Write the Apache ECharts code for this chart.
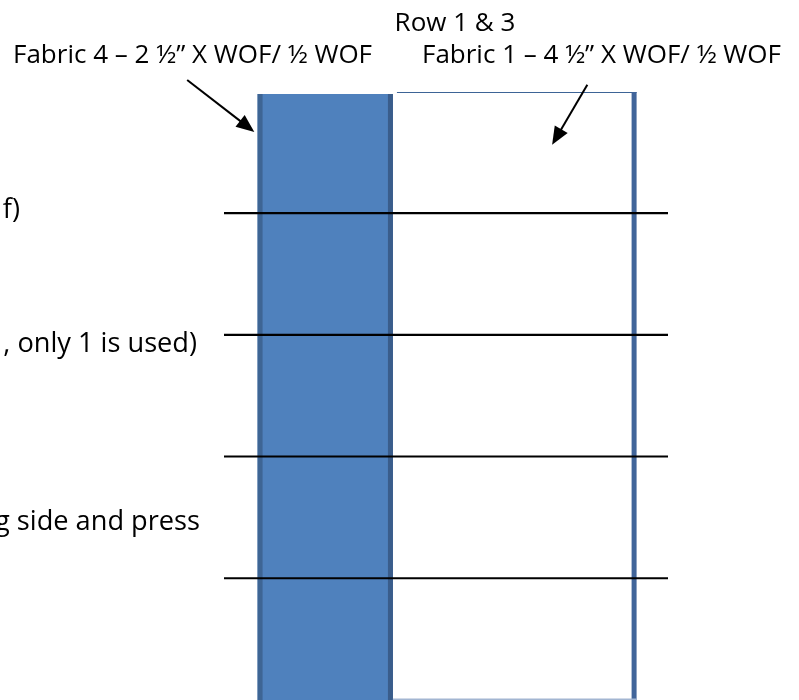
<!DOCTYPE html>
<html><head><meta charset="utf-8">
<script src="https://cdn.jsdelivr.net/npm/echarts@6/dist/echarts.min.js"></script>
<style>html,body{margin:0;padding:0;background:#fff}#c{width:799px;height:700px}</style>
</head><body><div id="c"></div>
<script>
// strip widths in inches (Fabric 4 then Fabric 1)
const stripNames = ['Fabric 4', 'Fabric 1'];
const stripWidths = [2.5, 4.5];
// cut lines, inches from the top of the strips
const cutLines = [2.2, 4.45, 6.7, 8.95];
const titleText = 'Row 1 & 3';
const stripLabels = ['Fabric 4 \u2013 2 \u00bd\u201d X WOF/ \u00bd WOF', 'Fabric 1 \u2013 4 \u00bd\u201d X WOF/ \u00bd WOF'];
const sideNotes = ['f)', ', only 1 is used)', 'g side and press'];

const FAMILY = "'Open Sans', 'Noto Sans', sans-serif";
// fit font sizes to the text widths seen in the reference
const ctx = document.createElement('canvas').getContext('2d');
ctx.font = '100px ' + FAMILY;
const FS = Math.round(100 * 359 / ctx.measureText(stripLabels[0]).width * 10) / 10;
const FN = Math.round(100 * 194 / ctx.measureText(sideNotes[1]).width * 10) / 10;
const FONT = FS + 'px ' + FAMILY;
const NOTE_FONT = FN + 'px ' + FAMILY;

const chart = echarts.init(document.getElementById('c'), null, {renderer: 'canvas'});

function arrow(api, s, t, w) {
  const S = api.coord(s), T = api.coord(t);
  const dx = T[0]-S[0], dy = T[1]-S[1], L = Math.hypot(dx, dy);
  const ux = dx/L, uy = dy/L, nx = -uy, ny = ux;
  const hl = 18, hw = 7.5;
  const B = [T[0]-ux*hl, T[1]-uy*hl];
  return [
    {type:'line', shape:{x1:S[0], y1:S[1], x2:B[0]+ux*2, y2:B[1]+uy*2}, style:{stroke:'#000', lineWidth:w}},
    {type:'polygon', shape:{points:[T, [B[0]+nx*hw, B[1]+ny*hw], [B[0]-nx*hw, B[1]-ny*hw]]}, style:{fill:'#000'}}
  ];
}

function renderItem(params, api) {
  const total = stripWidths.reduce((a,b)=>a+b, 0);
  const x0 = api.coord([0, 0]);
  const x1 = api.coord([stripWidths[0], 0]);
  const x2 = api.coord([total, 0]);
  const bottom = params.coordSys.y + params.coordSys.height;
  const top = x0[1];
  const kids = [];
  // Fabric 4 strip (blue)
  kids.push({type:'rect', shape:{x:x0[0], y:top, width:x1[0]-x0[0], height:bottom-top}, style:{fill:'#4F81BD'}});
  kids.push({type:'rect', shape:{x:x0[0], y:top, width:5, height:bottom-top}, style:{fill:'#3E6594'}});
  kids.push({type:'rect', shape:{x:x1[0]-5, y:top, width:5, height:bottom-top}, style:{fill:'#3A5D8B'}});
  // Fabric 1 strip (white with outline)
  kids.push({type:'line', shape:{x1:x1[0]+4, y1:top-1.5, x2:x2[0], y2:top-1.5}, style:{stroke:'#3D6496', lineWidth:1.2}});
  kids.push({type:'rect', shape:{x:x2[0]-5, y:top-2, width:5, height:bottom-top+2}, style:{fill:'#41659A'}});
  kids.push({type:'line', shape:{x1:x1[0], y1:bottom-0.8, x2:x2[0], y2:bottom-0.8}, style:{stroke:'#A3B6D2', lineWidth:1.5}});
  // cut lines across the full width
  const xl = params.coordSys.x, xr = params.coordSys.x + params.coordSys.width;
  cutLines.forEach(v => {
    const p = api.coord([0, v]);
    kids.push({type:'line', shape:{x1:xl, y1:p[1], x2:xr, y2:p[1]}, style:{stroke:'#000', lineWidth:2.2}});
  });
  // pointer arrows
  kids.push(...arrow(api, [-1.30, -0.26], [-0.06, 0.70], 2));
  kids.push(...arrow(api, [6.09, -0.17], [5.44, 0.94], 2));
  // side notes (text cut at the page edge)
  const noteY = [api.coord([0, cutLines[0]])[1] - 3, api.coord([0, cutLines[1]])[1] + 9,
                 (api.coord([0, cutLines[2]])[1] + api.coord([0, cutLines[3]])[1]) / 2 + 5];
  const noteRight = [20, 197, 200];
  sideNotes.forEach((t, i) => {
    kids.push({type:'text', style:{text:t, x:noteRight[i], y:noteY[i], align:'right', verticalAlign:'middle', font:NOTE_FONT, fill:'#000'}});
  });
  return {type:'group', children:kids};
}

chart.setOption({
  animation: false,
  backgroundColor: '#fff',
  grid: {left: 224, right: 131, top: 94, bottom: 0},
  xAxis: {type:'value', min:-0.62, max:7.58, show:false},
  yAxis: {type:'value', min:0, max:11.2, inverse:true, show:false},
  graphic: [
    {type:'text', x: 455, y: 24, style:{text:titleText, font:FONT, fill:'#000', align:'center', verticalAlign:'middle'}},
    {type:'text', x: 13, y: 56, style:{text:stripLabels[0], font:FONT, fill:'#000', verticalAlign:'middle'}},
    {type:'text', x: 781, y: 56, style:{text:stripLabels[1], font:FONT, fill:'#000', align:'right', verticalAlign:'middle'}}
  ],
  series: [{
    type:'custom', name: stripNames.join(' / '), renderItem, clip:false, silent:true,
    data:[[0, 0]]
  }]
});
</script></body></html>
